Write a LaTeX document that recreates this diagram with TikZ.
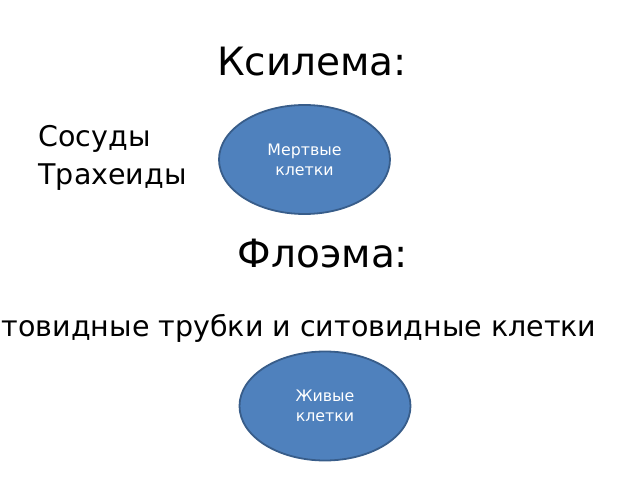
\documentclass[tikz,border=0pt]{standalone}
\usepackage{fontspec}
\setmainfont{DejaVu Sans}
\usetikzlibrary{shapes.geometric}
\definecolor{blobfill}{HTML}{4F81BD}
\definecolor{blobline}{HTML}{385D8A}
\tikzset{
  blob/.style={ellipse, fill=blobfill, draw=blobline, line width=1.8pt, minimum width=171pt, minimum height=109pt, text=white, align=center, font=\fontsize{15.8}{20}\selectfont, inner sep=0pt},
  title/.style={anchor=base, font=\fontsize{39}{46}\selectfont},
  body/.style={anchor=base west, font=\fontsize{28.5}{34}\selectfont},
}
\begin{document}
\begin{tikzpicture}[x=1pt,y=1pt]
\useasboundingbox (0,0) rectangle (640,480);
\clip (0,0) rectangle (640,480);
\node[title] (t1) at (312,480-76) {Ксилема:};
\node[body] (s1) at (35,480-147) {Сосуды};
\node[body] (s2) at (35,480-185) {Трахеиды};
\node[blob] (e1) at (304.5,480-159.5) {Мертвые\\клетки};
\node[title] (t2) at (323,480-267) {Флоэма:};
\node[anchor=base east, font=\fontsize{28.5}{34}\selectfont] (s3) at (600,480-336) {Ситовидные трубки и ситовидные клетки};
\node[blob] (e2) at (325,480-406) {Живые\\клетки};
\end{tikzpicture}
\end{document}
